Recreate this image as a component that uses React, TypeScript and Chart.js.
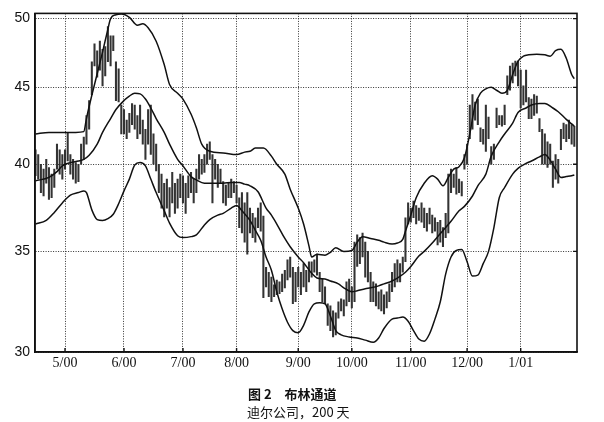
import { useEffect, useRef } from "react";
import { Chart, registerables } from "chart.js";

Chart.register(...registerables);

// trading-day index of the first session of each month
const monthIdx = [11, 33, 55, 75, 98, 118, 140, 161, 181];
const monthLabels = ["5/00", "6/00", "7/00", "8/00", "9/00", "10/00", "11/00", "12/00", "1/01"];
const yTicks = [30, 35, 40, 45, 50];

// daily high / low, one per trading day
const barHigh = [
  40.9, 40.6, 40.0, 39.7, 40.3, 39.8, 39.4, 39.7, 41.25, 40.9,
  40.6, 40.9, 42.0, 40.6, 40.3, 40.1, 40.0, 41.25, 41.7, 43.1,
  44.1, 46.8, 48.1, 47.6, 48.3, 47.7, 47.9, 49.4, 48.7, 48.7,
  46.8, 46.3, 43.8, 43.5, 42.8, 43.25, 43.9, 43.8, 43.1, 43.8,
  42.8, 42.2, 43.5, 43.8, 41.9, 41.25, 40.0, 39.4, 38.85, 39.1,
  38.6, 39.5, 38.85, 39.1, 39.4, 39.3, 38.85, 39.3, 39.5, 39.1,
  39.7, 40.6, 40.3, 40.6, 41.25, 41.4, 40.6, 40.3, 40.0, 39.7,
  38.95, 38.75, 38.85, 39.1, 38.95, 38.75, 38.0, 38.3, 37.7, 38.3,
  37.4, 37.1, 36.85, 37.4, 37.7, 36.95, 34.15, 33.9, 33.65, 33.25,
  33.5, 33.4, 33.8, 34.0, 34.55, 34.7, 34.15, 33.9, 34.15, 33.9,
  34.35, 34.0, 34.45, 34.45, 34.55, 34.85, 33.9, 33.55, 33.15, 32.3,
  32.2, 31.95, 31.85, 32.4, 32.55, 32.5, 33.4, 33.55, 33.15, 35.5,
  35.9, 35.75, 36.0, 35.5, 35.0, 33.9, 33.4, 33.3, 32.9, 33.0,
  32.75, 32.9, 33.3, 33.9, 34.35, 34.55, 34.35, 34.7, 36.85, 37.7,
  37.4, 37.8, 37.55, 37.4, 37.7, 37.4, 37.1, 37.4, 37.0, 36.85,
  36.6, 36.7, 36.3, 37.1, 39.4, 39.7, 39.4, 39.8, 39.1, 38.95,
  40.6, 41.25, 43.8, 44.5, 44.0, 44.2, 42.3, 42.2, 43.8, 43.0,
  41.1, 41.25, 43.6, 43.1, 43.1, 43.8, 45.8, 46.5, 46.7, 46.85,
  46.85, 46.2, 45.1, 46.2, 44.3, 44.2, 44.5, 44.4, 42.9, 42.2,
  41.9, 41.4, 41.25, 40.2, 40.6, 40.3, 42.2, 42.6, 42.5, 42.8,
  42.5, 42.4,
];
const barLow = [
  39.3, 39.1, 38.3, 38.1, 38.85, 37.9, 38.0, 38.6, 39.7, 39.4,
  39.1, 39.7, 40.2, 39.4, 39.1, 38.85, 38.95, 40.0, 40.3, 41.25,
  42.2, 44.5, 46.5, 45.7, 46.2, 45.1, 45.8, 46.8, 46.5, 47.6,
  44.1, 44.0, 41.9, 41.9, 41.6, 42.0, 42.5, 42.2, 41.6, 41.9,
  41.25, 40.3, 41.25, 40.6, 40.0, 39.6, 38.3, 37.4, 36.9, 37.4,
  36.9, 37.7, 37.1, 37.4, 38.0, 37.7, 37.1, 38.0, 38.3, 37.7,
  38.3, 39.1, 39.4, 39.5, 40.0, 40.3, 37.7, 39.1, 38.6, 38.85,
  37.7, 37.55, 38.0, 38.0, 38.3, 37.7, 36.3, 36.0, 35.5, 34.85,
  36.0, 35.75, 35.5, 36.3, 36.1, 32.6, 33.15, 32.65, 32.4, 32.65,
  32.75, 32.8, 32.9, 33.1, 33.5, 33.65, 32.3, 32.4, 33.15, 32.75,
  33.15, 32.9, 33.4, 33.65, 33.9, 33.75, 32.9, 32.4, 32.3, 31.25,
  31.0, 30.7, 30.8, 31.6, 31.95, 31.7, 32.2, 32.4, 32.1, 32.4,
  34.2, 34.35, 34.7, 33.65, 33.4, 32.4, 32.4, 32.2, 32.05, 31.95,
  31.8, 32.1, 32.4, 32.9, 33.15, 33.4, 33.4, 33.9, 34.45, 36.5,
  36.6, 36.85, 36.5, 36.7, 36.6, 36.3, 36.1, 36.5, 36.0, 36.1,
  35.35, 35.5, 35.25, 35.75, 36.0, 38.3, 38.6, 38.2, 38.3, 38.1,
  39.7, 40.0, 41.6, 42.2, 42.8, 42.5, 41.4, 41.25, 40.8, 41.6,
  40.0, 40.3, 42.3, 42.5, 42.4, 42.5, 44.5, 44.8, 45.3, 45.8,
  45.1, 43.6, 43.8, 44.0, 42.9, 42.9, 43.1, 43.25, 42.05, 40.0,
  40.0, 39.8, 40.0, 38.6, 39.1, 38.85, 40.9, 41.6, 41.4, 41.6,
  41.25, 41.1,
];

// Bollinger bands, sampled along the trading-day index
const upperIdx = [0, 5, 10, 15, 18, 19, 20, 23, 25, 27, 28, 30, 32, 35, 38, 40, 42, 45, 48, 50, 53, 55, 58, 60, 62, 65, 70, 75, 78, 80, 82, 85, 88, 90, 93, 95, 98, 100, 102, 103, 105, 108, 110, 112, 115, 118, 120, 122, 125, 128, 130, 133, 135, 137, 138, 140, 142, 145, 148, 150, 152, 154, 156, 158, 160, 162, 164, 166, 168, 170, 172, 174, 176, 178, 180, 182, 184, 187, 190, 192, 194, 196, 198, 200, 201];
const upperVals = [41.9, 42.0, 42.0, 42.0, 42.05, 42.9, 43.7, 45.95, 47.5, 49.2, 50.0, 50.3, 50.35, 50.1, 49.5, 49.6, 49.3, 48.3, 46.6, 45.2, 44.6, 44.2, 43.2, 42.3, 41.25, 40.8, 40.7, 40.6, 40.75, 40.8, 41.0, 41.0, 40.5, 40.0, 39.4, 38.5, 37.4, 36.5, 35.3, 34.7, 34.85, 34.8, 34.95, 35.2, 35.0, 35.05, 35.5, 35.8, 35.7, 35.6, 35.5, 35.4, 35.45, 35.65, 36.1, 37.0, 38.0, 38.85, 39.3, 39.1, 38.7, 39.2, 39.7, 39.85, 40.4, 41.9, 43.8, 44.6, 44.9, 45.0, 44.8, 44.6, 44.8, 45.9, 46.85, 47.2, 47.3, 47.35, 47.3, 47.2, 47.6, 47.7, 47.05, 45.9, 45.6];

const middleIdx = [0, 5, 8, 10, 13, 16, 18, 20, 23, 25, 28, 30, 33, 35, 37, 39, 41, 43, 45, 48, 50, 53, 55, 58, 60, 63, 66, 70, 73, 76, 78, 80, 83, 86, 88, 90, 93, 95, 98, 100, 103, 105, 108, 110, 113, 115, 118, 120, 123, 125, 128, 130, 133, 135, 138, 140, 143, 145, 148, 150, 153, 155, 158, 160, 163, 165, 168, 170, 173, 175, 178, 180, 183, 185, 188, 190, 193, 195, 198, 200, 201];
const middleVals = [39.0, 39.2, 39.55, 39.9, 40.1, 40.2, 40.3, 40.55, 41.25, 42.0, 42.9, 43.5, 44.1, 44.4, 44.6, 44.55, 44.2, 43.6, 42.9, 42.0, 41.25, 40.3, 39.9, 39.25, 39.05, 38.85, 38.85, 38.85, 38.9, 38.9, 38.8, 38.7, 38.35, 37.4, 37.0, 36.5, 35.7, 35.25, 34.7, 34.4, 33.85, 33.6, 33.55, 33.45, 33.3, 33.1, 32.9, 32.95, 33.05, 33.1, 33.2, 33.3, 33.45, 33.6, 33.9, 34.2, 34.75, 35.0, 35.45, 35.8, 36.3, 36.65, 37.25, 37.5, 38.1, 38.7, 39.4, 40.5, 41.4, 41.9, 42.6, 43.3, 43.6, 43.8, 43.9, 43.9, 43.6, 43.35, 42.85, 42.55, 42.4];

const lowerIdx = [0, 4, 7, 10, 13, 16, 18, 19, 21, 23, 25, 27, 29, 31, 33, 35, 37, 39, 41, 43, 45, 48, 50, 53, 55, 58, 60, 63, 65, 68, 70, 73, 75, 77, 80, 82, 84, 86, 88, 90, 92, 94, 96, 98, 100, 102, 104, 106, 108, 110, 112, 114, 117, 120, 123, 126, 128, 130, 133, 135, 137, 139, 141, 143, 145, 147, 149, 151, 153, 155, 157, 159, 161, 163, 165, 167, 169, 171, 173, 175, 178, 180, 183, 185, 188, 190, 192, 194, 196, 198, 200, 201];
const lowerVals = [36.5, 36.7, 37.15, 37.7, 38.15, 38.3, 38.4, 38.3, 37.3, 36.75, 36.7, 36.8, 37.05, 37.65, 38.4, 39.1, 39.95, 40.1, 39.9, 39.1, 38.3, 37.25, 36.55, 35.85, 35.75, 35.8, 35.9, 36.45, 36.75, 37.0, 37.1, 37.4, 37.55, 37.25, 36.7, 36.15, 35.6, 34.7, 34.0, 32.9, 32.05, 31.4, 31.0, 30.9, 31.25, 31.9, 32.3, 32.35, 32.3, 31.7, 31.0, 30.8, 30.7, 30.65, 30.55, 30.45, 30.65, 31.1, 31.55, 31.6, 31.65, 31.45, 31.0, 30.6, 30.5, 30.85, 31.55, 32.4, 33.8, 34.7, 35.05, 35.1, 34.45, 33.7, 33.75, 34.35, 35.0, 36.3, 38.0, 38.6, 39.4, 39.75, 40.05, 40.2, 40.45, 40.6, 40.25, 39.7, 39.2, 39.25, 39.3, 39.35];

const toPoints = (idx: number[], vals: number[]) => idx.map((x, i) => ({ x, y: vals[i] }));

const framePlugin = {
  id: "frame",
  afterDatasetsDraw(chart: any) {
    const { ctx, chartArea } = chart;
    const { left, top, right, bottom } = chartArea;
    ctx.save();
    ctx.strokeStyle = "#111";
    ctx.lineWidth = 1.6;
    ctx.strokeRect(left, top, right - left, bottom - top);
    // small inner tick marks
    ctx.lineWidth = 1.4;
    ctx.beginPath();
    chart.scales.x.ticks.forEach((t: any) => {
      const px = chart.scales.x.getPixelForValue(t.value);
      ctx.moveTo(px, bottom);
      ctx.lineTo(px, bottom - 4);
    });
    chart.scales.y.ticks.forEach((t: any) => {
      const py = chart.scales.y.getPixelForValue(t.value);
      ctx.moveTo(right, py);
      ctx.lineTo(right - 4, py);
    });
    ctx.stroke();
    ctx.restore();
  },
};

export default function App() {
  const chartRef = useRef<HTMLCanvasElement | null>(null);
  const chartInstanceRef = useRef<Chart | null>(null);

  useEffect(() => {
    if (!chartRef.current) return;
    const ctx = chartRef.current.getContext("2d");
    if (!ctx) return;

    if (chartInstanceRef.current) {
      chartInstanceRef.current.destroy();
    }

    const lineStyle = {
      type: "line" as const,
      borderColor: "#111",
      borderWidth: 1.5,
      pointRadius: 0,
      cubicInterpolationMode: "monotone" as const,
      fill: false,
    };

    chartInstanceRef.current = new Chart(ctx, {
      type: "bar",
      data: {
        datasets: [
          {
            type: "bar",
            data: barHigh.map((h, i) => ({ x: i, y: [barLow[i], h] })) as any,
            backgroundColor: "#333",
            barThickness: 1.4,
            order: 2,
          },
          { ...lineStyle, data: toPoints(upperIdx, upperVals), order: 1 },
          { ...lineStyle, data: toPoints(middleIdx, middleVals), order: 1 },
          { ...lineStyle, data: toPoints(lowerIdx, lowerVals), order: 1 },
        ] as any,
      },
      options: {
        animation: false,
        responsive: false,
        layout: { padding: { left: 0, right: 27, top: 7, bottom: 50 } },
        scales: {
          x: {
            type: "linear",
            min: -0.2,
            max: 202,
            offset: false,
            afterBuildTicks: (scale: any) => {
              scale.ticks = monthIdx.map((v) => ({ value: v }));
            },
            afterFit: (scale: any) => {
              scale.height = 20;
            },
            ticks: {
              autoSkip: false,
              maxRotation: 0,
              padding: 3,
              color: "#111",
              font: { family: "Liberation Serif", size: 14 },
              callback: (value: any) => monthLabels[monthIdx.indexOf(Number(value))] ?? "",
            },
            grid: { drawTicks: false, offset: false, color: "#333", lineWidth: 1 },
            border: { display: true, color: "#111", width: 1.6, dash: [1, 1.5] },
          },
          y: {
            type: "logarithmic",
            min: 30,
            max: 50.4,
            afterBuildTicks: (scale: any) => {
              scale.ticks = yTicks.map((v) => ({ value: v }));
            },
            afterFit: (scale: any) => {
              scale.width = 35;
            },
            ticks: {
              padding: 5,
              color: "#111",
              font: { family: "Liberation Sans", size: 14 },
              callback: (value: any) => String(value),
            },
            grid: { drawTicks: false, color: "#333", lineWidth: 1 },
            border: { display: true, color: "#111", width: 1.6, dash: [1, 1.5] },
          },
        },
        plugins: {
          legend: { display: false },
          tooltip: { enabled: false },
        },
      },
      plugins: [framePlugin],
    });

    return () => {
      chartInstanceRef.current?.destroy();
    };
  }, []);

  return (
    <div style={{ position: "fixed", left: 0, top: 0, width: 604, height: 422, background: "#fff" }}>
      <canvas ref={chartRef} width={604} height={422}></canvas>
      <div
        style={{
          position: "absolute",
          left: 248,
          top: 386,
          fontFamily: "Noto Sans CJK SC",
          fontSize: 13,
          fontWeight: 700,
          lineHeight: "16px",
          whiteSpace: "pre",
          color: "#111",
        }}
      >
        {"图 2\u3000布林通道"}
      </div>
      <div
        style={{
          position: "absolute",
          left: 247,
          top: 404,
          fontFamily: "Noto Sans CJK SC",
          fontSize: 13,
          lineHeight: "16px",
          whiteSpace: "pre",
          color: "#111",
        }}
      >
        {"迪尔公司，200 天"}
      </div>
    </div>
  );
}
